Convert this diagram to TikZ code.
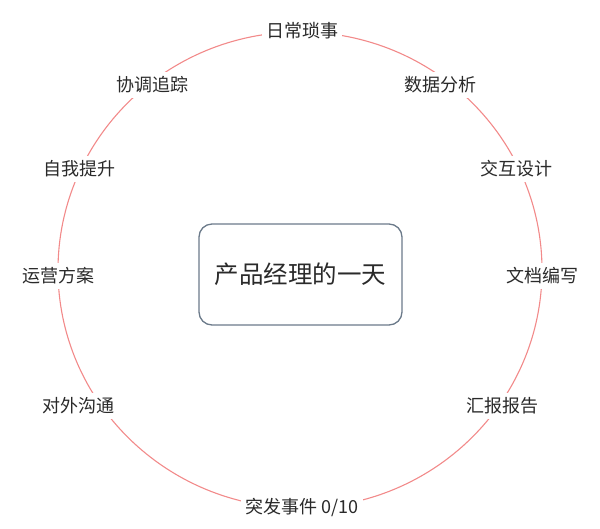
\documentclass[tikz,border=0pt]{standalone}
\usepackage{fontspec}
\setmainfont{Noto Sans CJK SC}
\newfontfamily\cjk{Noto Sans CJK SC}
\definecolor{ringred}{HTML}{F28A8A}
\definecolor{boxline}{HTML}{6B7A8A}
\definecolor{txt}{HTML}{2A2A2A}
\tikzset{
  tasklabel/.style={fill=white, text=txt, inner xsep=4pt, inner ysep=5pt, font=\cjk\fontsize{18}{20}\selectfont},
  titlebox/.style={draw=boxline, line width=1.3pt, rounded corners=13pt, minimum width=203pt, minimum height=101pt, text=txt, font=\cjk\fontsize{24.5}{27}\selectfont}
}
\begin{document}
\begin{tikzpicture}[x=1pt,y=-1pt]
\useasboundingbox (0,0) rectangle (600,528);
\coordinate (c) at (300,270);
\draw[ringred, line width=1.1pt] (c) ellipse [x radius=242, y radius=238];
\node[titlebox] (title) at (300.5,274.5) {产品经理的一天};
\node[tasklabel] (t1) at (302,31) {日常琐事};
\node[tasklabel] (t2) at (440,85) {数据分析};
\node[tasklabel] (t3) at (516,169) {交互设计};
\node[tasklabel] (t4) at (542,276) {文档编写};
\node[tasklabel] (t5) at (502,406) {汇报报告};
\node[tasklabel] (t6) at (302,507) {突发事件 0/10};
\node[tasklabel] (t7) at (78,406) {对外沟通};
\node[tasklabel] (t8) at (58,276) {运营方案};
\node[tasklabel] (t9) at (79,169) {自我提升};
\node[tasklabel] (t10) at (152,85) {协调追踪};
\end{tikzpicture}
\end{document}
